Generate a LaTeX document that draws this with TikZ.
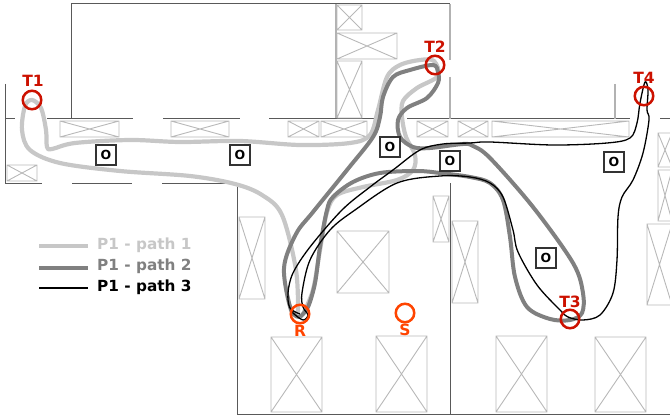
\documentclass[tikz,border=0pt]{standalone}
\usepackage{fontspec}
\setmainfont{DejaVu Sans}
\usetikzlibrary{positioning}

\definecolor{TargetRed}{HTML}{CC1100}
\definecolor{StartOrange}{HTML}{FF4400}

\newcommand{\Shelf}[4]{\draw[Shelf] (#1,#2) rectangle (#3,#4) (#1,#2) -- (#3,#4) (#1,#4) -- (#3,#2);}

\begin{document}
\begin{tikzpicture}[
      x=1pt, y=-1pt,
      Wall/.style={draw=black!65, line width=1pt},
      Rack/.style={draw=black!30, line width=1.5pt},
      Shelf/.style={draw=black!28, line width=0.9pt},
      Obstacle/.style={draw=black!80, line width=1.2pt, fill=white, minimum size=20pt, inner sep=0pt, font=\bfseries\fontsize{12.5}{12.5}\selectfont},
      Target/.style={circle, draw=TargetRed, line width=2.5pt, minimum size=18.5pt, inner sep=0pt},
      Start/.style={circle, draw=StartOrange, line width=2.5pt, minimum size=18.5pt, inner sep=0pt},
      TargetLabel/.style={text=TargetRed, font=\bfseries\fontsize{15.5}{15.5}\selectfont},
      StartLabel/.style={text=StartOrange, font=\bfseries\fontsize{15.5}{15.5}\selectfont},
      LegendLabel/.style={anchor=west, inner sep=0pt, font=\bfseries\fontsize{15.3}{15.3}\selectfont},
      PathOne/.style={draw=black!22, line width=4.2pt, line join=round},
      PathTwo/.style={draw=black!50, line width=4pt, line join=round},
      PathThree/.style={draw=black, line width=1.3pt, line join=round},
      ]
      \useasboundingbox (0,0) rectangle (670,420);

      % walls
      \draw[Wall] (71,119) -- (71,4) -- (450,4);
      \draw[Wall] (5,84) -- (5,183);
      \draw[Wall] (5,119) -- (15,119);
      \draw[Wall] (47,119) -- (133,119);
      \draw[Wall] (163,119) -- (240,119);
      \draw[Wall] (269,119) -- (376,119);
      \draw[Wall] (407,119) -- (630,119);
      \draw[Wall] (660,119) -- (670,119);
      \draw[Wall] (5,183) -- (42,183);
      \draw[Wall] (72,183) -- (132,183);
      \draw[Wall] (162,183) -- (237,183);
      \draw[Wall] (237,183) -- (237,414) -- (670,414);
      \draw[Wall] (450,183) -- (450,414);
      \draw[Rack] (336,4) -- (336,118);
      \draw[Rack] (450,4) -- (450,60);
      \draw[Rack] (450,77) -- (450,119);
      \draw[Rack] (615,84) -- (615,119);

      % shelves
      \Shelf{60}{121}{119}{137}
      \Shelf{171}{121}{229}{137}
      \Shelf{7}{165}{37}{181}
      \Shelf{337}{5}{362}{30}
      \Shelf{337}{33}{397}{59}
      \Shelf{337}{61}{362}{118}
      \Shelf{288}{121}{319}{137}
      \Shelf{321}{121}{367}{137}
      \Shelf{417}{121}{448}{137}
      \Shelf{458}{121}{488}{137}
      \Shelf{492}{121}{629}{137}
      \Shelf{658}{133}{672}{167}
      \Shelf{658}{170}{672}{221}
      \Shelf{647}{224}{672}{305}
      \Shelf{433}{196}{449}{242}
      \Shelf{452}{221}{478}{303}
      \Shelf{239}{217}{265}{299}
      \Shelf{337}{231}{389}{293}
      \Shelf{271}{337}{322}{412}
      \Shelf{376}{336}{427}{412}
      \Shelf{496}{336}{547}{412}
      \Shelf{595}{337}{646}{412}

      % paths
      \draw[PathOne] plot[smooth, tension=0.55] coordinates {
        (298,314) (296,270) (282,215) (262,195) (235,184) (190,176) (120,171) (60,163)
        (30,150) (22,130) (25,106) (32,100) (41,108) (46,130) (47,147) (52,149) (75,143)
        (130,140) (180,142) (240,141) (300,145) (350,143) (370,135) (378,110) (387,77)
        (400,65) (420,60) (434,61) (438,76) (417,88) (403,101) (402,117) (406,137)
        (415,155) (413,170) (397,180) (363,187) (337,195) (327,212) (320,250) (313,290) (303,314)};
      \draw[PathTwo] plot[smooth, tension=0.55] coordinates {
        (300,317) (291,310) (284,268) (296,234) (313,212) (347,170) (373,137) (380,117)
        (383,97) (393,77) (410,70) (433,65) (438,72) (438,83) (427,98) (407,108) (398,120)
        (400,137) (413,147) (430,148) (463,144) (473,146) (490,158) (533,207) (573,263)
        (583,293) (582,313) (570,320) (550,319) (527,307) (515,277) (510,237) (503,200)
        (490,183) (470,177) (440,173) (417,171) (380,173) (353,182) (333,197) (327,210)
        (320,247) (315,283) (308,307) (300,317)};
      \draw[PathThree] plot[smooth, tension=0.55] coordinates {
        (300,314) (290,308) (288,293) (293,273) (310,247) (342,210) (370,187) (393,170)
        (420,150) (443,144) (470,143) (490,142) (553,145) (607,143) (630,138) (637,123)
        (640,103) (645,82) (648,90) (647,110) (649,120) (643,153) (633,180) (622,197)
        (618,217) (617,260) (613,293) (600,315) (583,320) (568,317) (560,310) (537,285)
        (518,252) (513,230) (503,197) (490,183) (470,177) (440,176) (397,183) (355,210)
        (330,230) (310,260) (302,293) (303,307) (308,315) (303,320) (293,313) (290,308)};

      % obstacles
      \node[Obstacle] (O1) at (106,155) {O};
      \node[Obstacle] (O2) at (240,155) {O};
      \node[Obstacle] (O3) at (390,147) {O};
      \node[Obstacle] (O4) at (450,161) {O};
      \node[Obstacle] (O5) at (614,162) {O};
      \node[Obstacle] (O6) at (546,258) {O};

      % targets
      \node[Target] (T1) at (32,100) {};
      \node[Target] (T2) at (435,65) {};
      \node[Target] (T3) at (570,319) {};
      \node[Target] (T4) at (644,96) {};
      \node[Start] (R) at (300,314) {};
      \node[Start] (S) at (405,313) {};
      \node[TargetLabel] (T1label) at (33,81) {T1};
      \node[TargetLabel] (T2label) at (435,47) {T2};
      \node[TargetLabel] (T3label) at (570,302) {T3};
      \node[TargetLabel] (T4label) at (644,78) {T4};
      \node[StartLabel] (Rlabel) at (300,331) {R};
      \node[StartLabel] (Slabel) at (405,330) {S};

      % legend
      \coordinate (L1) at (39,246);
      \coordinate (L2) at (39,268);
      \coordinate (L3) at (39,288);
      \node[LegendLabel, text=black!22] (P1) at (97,245) {P1 - path 1};
      \node[LegendLabel, text=black!50] (P2) at (97,266) {P1 - path 2};
      \node[LegendLabel, text=black] (P3) at (97,287) {P1 - path 3};
      \draw[PathOne] (L1) -- ++(49,0);
      \draw[PathTwo] (L2) -- ++(49,0);
      \draw[PathThree] (L3) -- ++(49,0);
    \end{tikzpicture}
\end{document}
